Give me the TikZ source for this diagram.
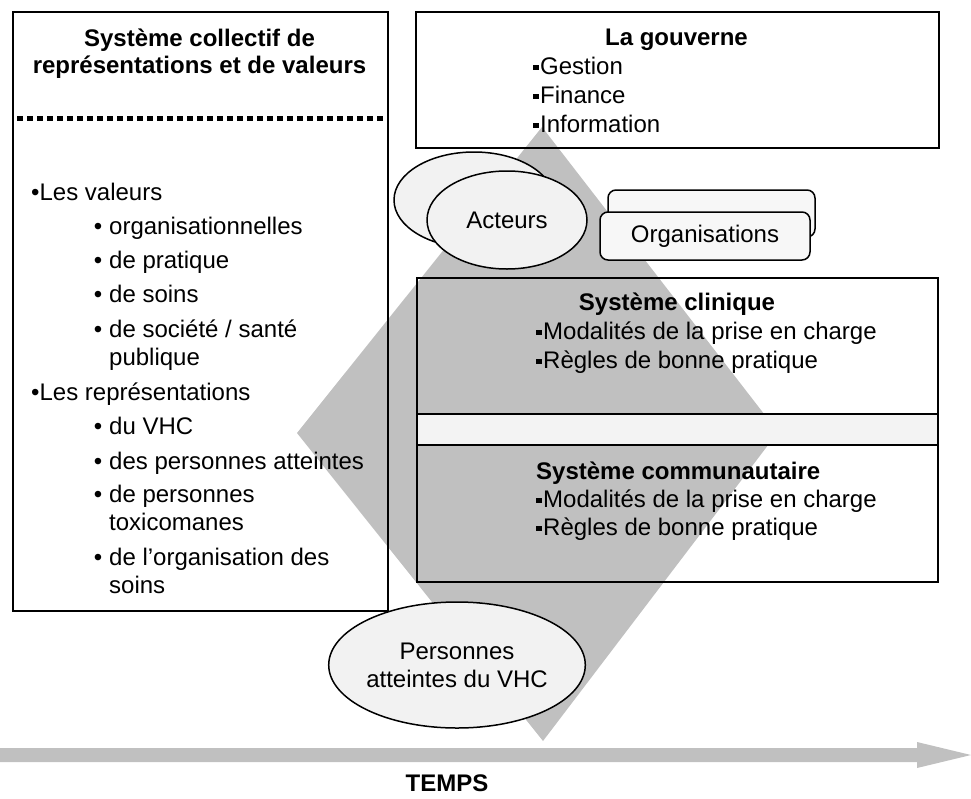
\documentclass[tikz,border=0pt]{standalone}
\usepackage{fontspec}
\setmainfont{Liberation Sans}
\usetikzlibrary{shapes.geometric}
\definecolor{dgray}{HTML}{C0C0C0}
\definecolor{efill}{HTML}{F2F2F2}
\definecolor{ofill}{HTML}{F7F7F7}
\definecolor{bandfill}{HTML}{F3F3F3}
\newcommand{\sqbul}{\raisebox{4pt}{\rule{5.5pt}{5.5pt}}\hspace{1.5pt}}
\newcommand{\subbul}{\llap{\textbullet\hspace{7pt}}}
\begin{document}
\begin{tikzpicture}[x=1pt,y=-1pt,
  font=\fontsize{24}{28}\selectfont,
  box/.style={draw, line width=1.8pt, inner sep=0pt, anchor=north west},
  txt/.style={inner sep=0pt, anchor=base west},
  ttl/.style={inner sep=0pt, anchor=base},
  ell/.style={ellipse, draw, line width=1.5pt, fill=efill, inner sep=0pt},
  orgbox/.style={rectangle, rounded corners=8pt, draw, line width=1.5pt, fill=ofill, inner sep=0pt},
  sep/.style={line width=5pt, dash pattern=on 5.5pt off 4.5pt}
]
\useasboundingbox (0,0) rectangle (971,798);

% diamond
\coordinate (dT) at (542,127);
\coordinate (dL) at (297,433);
\coordinate (dR) at (778,432);
\coordinate (dB) at (543,741);
\fill[dgray] (dT) -- (dR) -- (dB) -- (dL) -- cycle;

% left box
\node[box, minimum width=375pt, minimum height=599pt] (left) at (12,11) {};
\node[ttl] (lt1) at (199.5,46) {\textbf{Système collectif de}};
\node[ttl] (lt2) at (199.5,73) {\textbf{représentations et de valeurs}};
\coordinate (sepA) at (17,118);
\coordinate (sepB) at (384,118);
\draw[sep] (sepA) -- (sepB);

\node[txt] (lv) at (31,200) {\textbullet Les valeurs};
\node[txt] (lv1) at (109,234) {\subbul organisationnelles};
\node[txt] (lv2) at (109,268) {\subbul de pratique};
\node[txt] (lv3) at (109,302) {\subbul de soins};
\node[txt] (lv4) at (109,337) {\subbul de société / santé};
\node[txt] (lv4b) at (109,365) {publique};
\node[txt] (lr) at (31,400) {\textbullet Les représentations};
\node[txt] (lr1) at (109,434) {\subbul du VHC};
\node[txt] (lr2) at (109,469) {\subbul des personnes atteintes};
\node[txt] (lr3) at (109,502) {\subbul de personnes};
\node[txt] (lr3b) at (109,530) {toxicomanes};
\node[txt] (lr4) at (109,565) {\subbul de l’organisation des};
\node[txt] (lr4b) at (109,593) {soins};

% gouverne
\node[box, minimum width=523pt, minimum height=136pt] (gov) at (415,11) {};
\node[ttl] (govt) at (676.5,45) {\textbf{La gouverne}};
\node[txt] (g1) at (533,74) {\sqbul Gestion};
\node[txt] (g2) at (533,103) {\sqbul Finance};
\node[txt] (g3) at (533,132) {\sqbul Information};

% acteurs
\node[ell, minimum width=160pt, minimum height=96pt] (actB) at (474,200) {};
\node[ell, minimum width=160pt, minimum height=98pt] (act) at (507,220) {Acteurs};

% organisations
\node[orgbox, minimum width=207pt, minimum height=47pt] (orgB) at (711.5,213.5) {};
\node[orgbox, minimum width=210pt, minimum height=48pt] (org) at (705,236) {Organisations};

% clinique / communautaire
\node[box, minimum width=521pt, minimum height=136pt] (clin) at (416,277) {};
\node[box, fill=bandfill, minimum width=521pt, minimum height=31pt] (band) at (416,413) {};
\node[box, minimum width=521pt, minimum height=137pt] (comm) at (416,444) {};

\node[ttl] (clint) at (677,310) {\textbf{Système clinique}};
\node[txt] (c1) at (536,339) {\sqbul Modalités de la prise en charge};
\node[txt] (c2) at (536,368) {\sqbul Règles de bonne pratique};
\node[txt] (commt) at (536,479) {\textbf{Système communautaire}};
\node[txt] (m1) at (536,507) {\sqbul Modalités de la prise en charge};
\node[txt] (m2) at (536,535) {\sqbul Règles de bonne pratique};

% personnes
\node[ell, minimum width=252pt, minimum height=126pt, align=center] (pers) at (457,665) {Personnes\\atteintes du VHC};

% time arrow
\coordinate (tS) at (0,755);
\coordinate (tE) at (971,755);
\fill[dgray] (0,748) -- (917,748) -- (917,742) -- (tE) -- (917,768) -- (917,762) -- (0,762) -- cycle;
\node[ttl] (temps) at (447,791) {\textbf{TEMPS}};
\end{tikzpicture}
\end{document}
